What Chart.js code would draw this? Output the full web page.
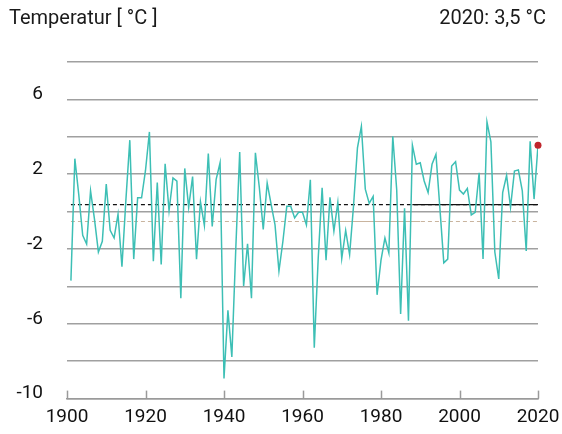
<!DOCTYPE html>
<html>
<head>
<meta charset="utf-8">
<script src="https://cdn.jsdelivr.net/npm/chart.js@4/dist/chart.umd.min.js"></script>
<style>
  html, body { margin:0; padding:0; background:#fff; }
  #wrap { position:relative; width:562px; height:434px; font-family: Roboto, "Noto Sans", sans-serif; color:#1a1a1a; }
  #title { position:absolute; left:9px; top:5px; font-size:20px; }
  #note { position:absolute; right:16px; top:5px; font-size:20px; }
  canvas { position:absolute; left:0; top:0; }
</style>
</head>
<body>
<div id="wrap">
  <canvas id="c" width="562" height="434"></canvas>
  <div id="title">Temperatur [ °C ]</div>
  <div id="note">2020: 3,5 °C</div>
</div>
<script>
// ---- data ----
const years = [];
for (let y = 1901; y <= 2020; y++) years.push(y);
const temps = [
  -3.69, 2.83, 0.9, -1.27, -1.73, 1.11, -0.4, -2.16, -1.59, 1.47,
  -1.0, -1.41, -0.14, -2.95, 0.6, 3.82, -2.54, 0.74, 0.74, 2.2,
  4.26, -2.65, 1.55, -2.83, 2.56, 0.05, 1.80, 1.63, -4.63, 2.31,
  0.23, 1.87, -2.54, 0.53, -0.74, 3.11, -0.80, 1.73, 2.61, -8.92,
  -5.28, -7.77, -2.0, 3.18, -3.98, -1.72, -4.63, 3.14, 1.29, -0.95,
  1.52, 0.4, -0.71, -3.18, -1.6, 0.28, 0.28, -0.34, -0.04, -0.04,
  -0.71, 1.70, -7.28, -2.51, 1.27, -2.60, 0.76, -1.04, 0.49, -2.51,
  -1.01, -2.30, 0.3, 3.41, 4.56, 1.20, 0.44, 0.81, -4.45, -2.60,
  -1.41, -2.21, 4.03, 1.17, -5.48, 0.18, -5.83, 3.55, 2.53, 2.61,
  1.64, 1.02, 2.53, 3.06, 0.2, -2.74, -2.54, 2.44, 2.67, 1.15,
  0.94, 1.24, -0.18, -0.04, 2.08, -2.53, 4.79, 3.73, -2.16, -3.60,
  1.02, 1.94, 0.23, 2.17, 2.23, 1.11, -2.10, 3.76, 0.67, 3.55
];
const meanOld = -0.53;          // reference period 1961-1990
const meanOldPeriod = [1961, 1990];
const meanNew = 0.37;
const meanNewPeriod = [1988, 2020];
const xTicks = [1900, 1920, 1940, 1960, 1980, 2000, 2020];
const yLabels = [-10, -6, -2, 2, 6];

const series = years.map((y, i) => ({ x: y, y: temps[i] }));
const first = years[0], last = years[years.length - 1];
const hline = (v, a, b) => [{ x: a, y: v }, { x: b, y: v }];

const tickMarks = {
  id: 'tickMarks',
  afterDraw(chart) {
    const { ctx, scales: { x }, chartArea } = chart;
    ctx.save();
    ctx.strokeStyle = '#9a9a9a';
    ctx.lineWidth = 1.5;
    xTicks.forEach(t => {
      const px = Math.round(x.getPixelForValue(t)) + 0.5;
      ctx.beginPath();
      ctx.moveTo(px, chartArea.bottom);
      ctx.lineTo(px, chartArea.bottom - 8);
      ctx.stroke();
    });
    ctx.restore();
  }
};

new Chart(document.getElementById('c'), {
  type: 'line',
  data: {
    datasets: [
      { data: [series[series.length - 1]], showLine: false, pointRadius: 3.5, clip: false,
        pointBackgroundColor: '#c0262d', pointBorderWidth: 0 },
      { data: series, borderColor: '#3dbfb5', borderWidth: 1.5, pointRadius: 0, tension: 0 },
      { data: hline(meanNew, meanNewPeriod[0], meanNewPeriod[1]), borderColor: '#111', borderWidth: 1.2, pointRadius: 0 },
      { data: hline(meanNew, first, last), borderColor: '#111', borderWidth: 1.2, borderDash: [4, 3], pointRadius: 0 },
      { data: hline(meanOld, meanOldPeriod[0], meanOldPeriod[1]), borderColor: '#c9b49e', borderWidth: 1.2, pointRadius: 0 },
      { data: hline(meanOld, first, last), borderColor: '#c9b49e', borderWidth: 1.2, borderDash: [4, 3], pointRadius: 0 }
    ]
  },
  options: {
    responsive: false,
    animation: false,
    layout: { padding: { top: 62, right: 24, left: 0, bottom: 0 } },
    plugins: { legend: { display: false }, tooltip: { enabled: false }, title: { display: false } },
    scales: {
      x: {
        type: 'linear', min: 1900, max: 2020,
        afterBuildTicks(s) { s.ticks = xTicks.map(v => ({ value: v })); },
        afterFit(s) { s.height = 32; },
        grid: { display: true, drawOnChartArea: false, drawTicks: true, tickLength: 7, tickColor: 'rgba(0,0,0,0)' },
        border: { display: true, color: '#9a9a9a', width: 1.5 },
        ticks: { padding: 0, color: '#111', font: { family: 'Roboto', size: 19 }, maxRotation: 0,
                 callback: v => String(v) }
      },
      y: {
        min: -10, max: 8,
        ticks: { stepSize: 2, padding: 24, labelOffset: -5, color: '#111',
                 font: { family: 'Roboto', size: 19 },
                 callback: v => yLabels.includes(v) ? String(v) : '' },
        afterFit(s) { s.width = 67; },
        grid: { color: '#a0a0a0', lineWidth: 1.5, drawTicks: false },
        border: { display: false }
      }
    }
  },
  plugins: [tickMarks]
});
</script>
</body>
</html>
